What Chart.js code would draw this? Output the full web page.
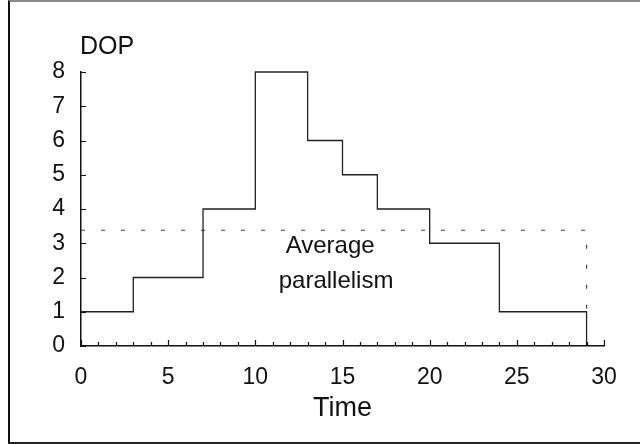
<!DOCTYPE html>
<html>
<head>
<meta charset="utf-8">
<script src="https://cdn.jsdelivr.net/npm/chart.js@4.4.0/dist/chart.umd.min.js"></script>
<style>
html, body { margin: 0; padding: 0; background: #fff; }
#wrap { position: relative; width: 640px; height: 444px; }
#frame { position: absolute; left: 8px; top: 0; width: 632px; height: 444px; box-sizing: border-box;
  border-top: 2px solid #8a8a8a; border-left: 2px solid #111; border-bottom: 2px solid #222; pointer-events: none; }
</style>
</head>
<body>
<div id="wrap">
<canvas id="chart" width="640" height="444"></canvas>
<div id="frame"></div>
</div>
<script>
// degree of parallelism over time (step profile)
var times = [0, 3, 7, 10, 13, 15, 17, 20, 24, 29];
var dop = [1, 2, 4, 8, 6, 5, 4, 3, 1, 0];

// average parallelism line, dropping down at the end
var avgTimes = [0, 29, 29];
var avgDop = [3.38, 3.38, 1];

var xTickLabels = [0, 5, 10, 15, 20, 25, 30];
var yTickLabels = [0, 1, 2, 3, 4, 5, 6, 7, 8];

var FONT = '"Liberation Sans", Arial, sans-serif';
Chart.defaults.font.family = FONT;
Chart.defaults.color = '#111';

function points(xs, ys) {
    return xs.map(function (x, i) { return { x: x, y: ys[i] }; });
}

// small ticks pointing into the plot, plus the free text
var innerTicks = {
    id: 'innerTicks',
    afterDatasetsDraw: function (chart) {
        var ctx = chart.ctx;
        var x = chart.scales.x, y = chart.scales.y;
        var area = chart.chartArea;
        ctx.save();
        ctx.strokeStyle = '#111';
        ctx.lineWidth = 1.2;
        ctx.beginPath();
        for (var v = x.min; v <= x.max; v++) {
            var px = Math.round(x.getPixelForValue(v)) + 0.5;
            var len = v % 5 === 0 ? 6 : 4;
            ctx.moveTo(px, area.bottom);
            ctx.lineTo(px, area.bottom - len);
        }
        yTickLabels.forEach(function (v) {
            var py = Math.round(y.getPixelForValue(v)) + 0.5;
            ctx.moveTo(area.left, py);
            ctx.lineTo(area.left + 5, py);
        });
        ctx.stroke();

        ctx.fillStyle = '#111';
        ctx.textBaseline = 'alphabetic';
        ctx.font = '25px ' + FONT;
        ctx.textAlign = 'left';
        ctx.fillText('DOP', area.left - 1, area.top - 18);

        ctx.font = '24px ' + FONT;
        ctx.textAlign = 'center';
        ctx.fillText('Average', x.getPixelForValue(14.29), y.getPixelForValue(2.72));
        ctx.fillText('parallelism', x.getPixelForValue(14.63), y.getPixelForValue(1.69));
        ctx.restore();
    }
};

var chart = new Chart(
    document.getElementById('chart'),
    {
        type: 'line',
        data: {
            datasets: [{
                label: 'DOP',
                data: points(times, dop),
                stepped: 'before',
                borderColor: '#222',
                borderWidth: 1.3,
                pointRadius: 0,
                fill: false,
                clip: false
            },
            {
                label: 'Average parallelism',
                data: points(avgTimes, avgDop),
                borderColor: '#444',
                borderWidth: 1.2,
                borderDash: [4, 16],
                pointRadius: 0,
                fill: false,
                clip: false
            }]
        },
        options: {
            responsive: false,
            animation: false,
            devicePixelRatio: 1,
            layout: {
                padding: { left: 0, right: 36, top: 72, bottom: 0 }
            },
            plugins: {
                legend: { display: false },
                tooltip: { enabled: false }
            },
            scales: {
                x: {
                    type: 'linear',
                    min: 0,
                    max: 30,
                    afterBuildTicks: function (s) {
                        s.ticks = xTickLabels.map(function (v) { return { value: v }; });
                    },
                    afterFit: function (s) { s.height = 98; },
                    grid: { display: false, drawTicks: false },
                    border: { color: '#111', width: 1.5 },
                    ticks: { font: { size: 23 }, padding: 18, maxRotation: 0, color: '#111' },
                    title: {
                        display: true,
                        text: 'Time',
                        font: { size: 27 },
                        color: '#111',
                        padding: { top: 0, bottom: 19 }
                    }
                },
                y: {
                    type: 'linear',
                    min: 0,
                    max: 8,
                    afterBuildTicks: function (s) {
                        s.ticks = yTickLabels.map(function (v) { return { value: v }; });
                    },
                    afterFit: function (s) { s.width = 81; },
                    grid: { display: false, drawTicks: false },
                    border: { color: '#111', width: 1.5 },
                    ticks: { font: { size: 23 }, padding: 16, color: '#111' }
                }
            }
        },
        plugins: [innerTicks]
    }
);
</script>
</body>
</html>
